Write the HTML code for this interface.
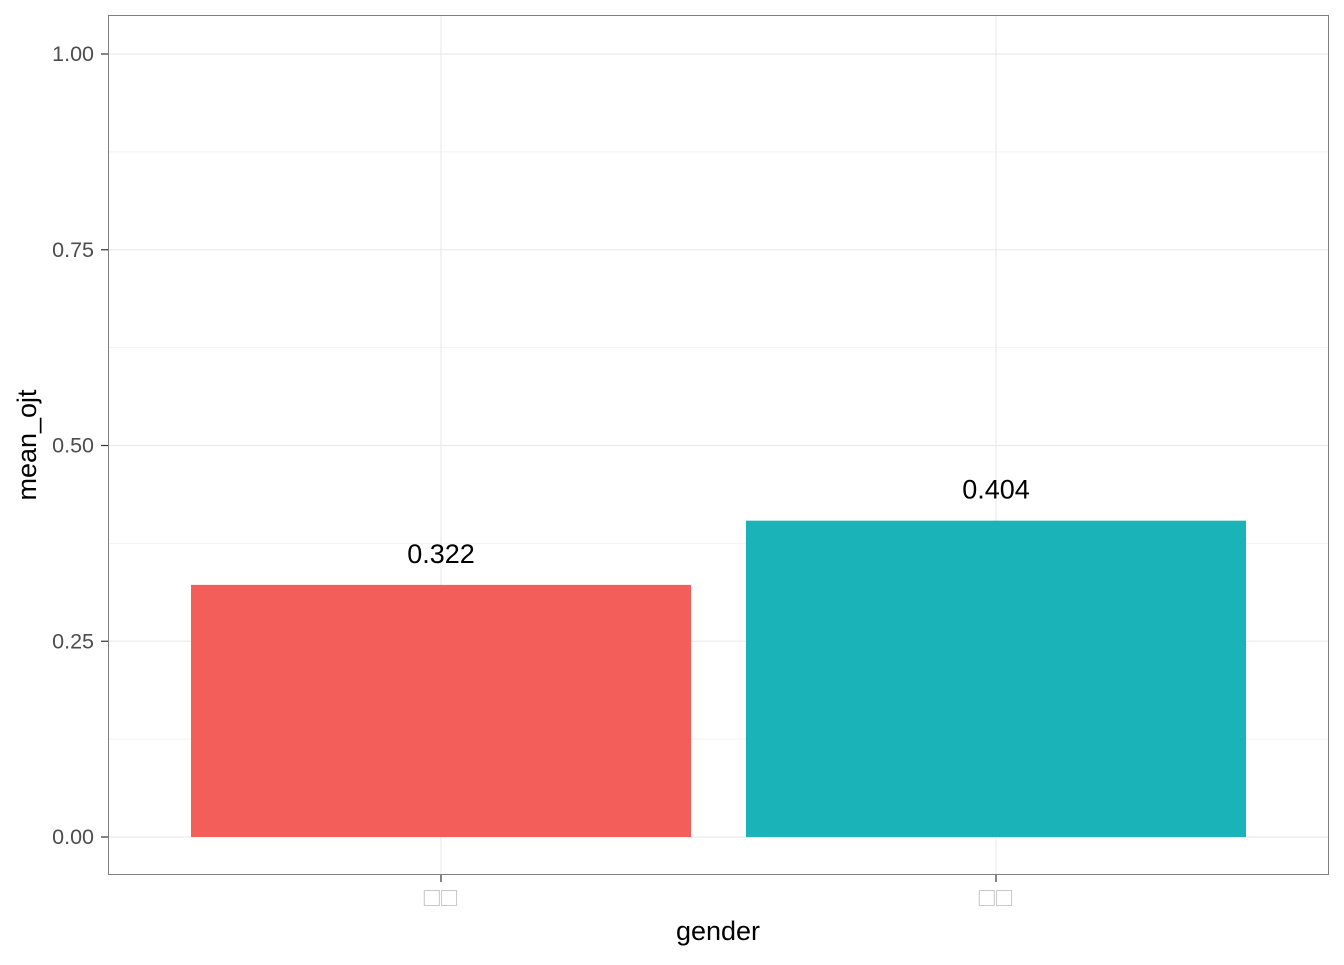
<!DOCTYPE html>
<html><head><meta charset="utf-8"><style>
body{margin:0;background:#fff;}
text{font-family:"Liberation Sans","Noto Sans CJK KR",sans-serif;}
</style></head><body>
<svg id="chart" width="1344" height="960" xmlns="http://www.w3.org/2000/svg">
<rect x="108" y="15" width="1221" height="860" fill="#fff"/>
<g id="grid"></g><g id="bars"></g><g id="axes"></g>
<rect x="108.5" y="15.5" width="1220" height="859" fill="none" stroke="#7f7f7f" stroke-width="1"/>
<text x="718" y="940" text-anchor="middle" font-size="27" fill="#000">gender</text>
<text transform="translate(36,445) rotate(-90)" text-anchor="middle" font-size="27" fill="#000">mean_ojt</text>
</svg>
<script>
const categories = ["□□","□□"];
const values = [0.322, 0.404];
const valueLabels = ["0.322","0.404"];
const colors = ["#F35E5A","#1AB4B8"];
const yTicks = [0, 0.25, 0.5, 0.75, 1];
const yTickLabels = ["0.00","0.25","0.50","0.75","1.00"];
const NS="http://www.w3.org/2000/svg";
function y(v){return 837 - v*783;}
function xc(i){return 441 + i*555;}
const bw=500;
function mk(t,a,p){const e=document.createElementNS(NS,t);for(const k in a)e.setAttribute(k,a[k]);p.appendChild(e);return e;}
const grid=document.getElementById('grid'),bars=document.getElementById('bars'),axes=document.getElementById('axes');
for(let i=0;i<yTicks.length-1;i++){
  const l=mk('line',{x1:108,x2:1329,y1:y((yTicks[i]+yTicks[i+1])/2),y2:y((yTicks[i]+yTicks[i+1])/2),stroke:'#f2f2f2','stroke-width':1},grid);
  
  
}
yTicks.forEach((t,i)=>{
  const l=mk('line',{x1:108,x2:1329,y1:y(t),y2:y(t),stroke:'#ebebeb','stroke-width':1.2},grid);
  
  
  const tk=mk('line',{x1:101,x2:108,y1:y(t),y2:y(t),stroke:'#333','stroke-width':1.2},axes);
  
  
  const tx=mk('text',{x:94,y:y(t)+7,'text-anchor':'end','font-size':21.5,fill:'#4d4d4d'},axes);
  tx.textContent=yTickLabels[i];
  
  
});
categories.forEach((c,i)=>{
  const g=mk('line',{x1:xc(i),x2:xc(i),y1:15,y2:875,stroke:'#ebebeb','stroke-width':1.2},grid);
  
  
  const r=mk('rect',{x:xc(i)-bw/2,y:y(values[i]),width:bw,height:y(0)-y(values[i]),fill:colors[i]},bars);
  
  
  const vl=mk('text',{x:xc(i),y:y(values[i])-22,'text-anchor':'middle','font-size':27,fill:'#000'},bars);
  vl.textContent=valueLabels[i];
  
  
  const tk=mk('line',{x1:xc(i),x2:xc(i),y1:875,y2:882,stroke:'#333','stroke-width':1.2},axes);
  
  
  const tx=mk('text',{x:xc(i),y:906,'text-anchor':'middle','font-size':27,'letter-spacing':1,fill:'#c8c8c8'},axes);
  tx.textContent=c;
  
  
});
</script>
</body></html>
